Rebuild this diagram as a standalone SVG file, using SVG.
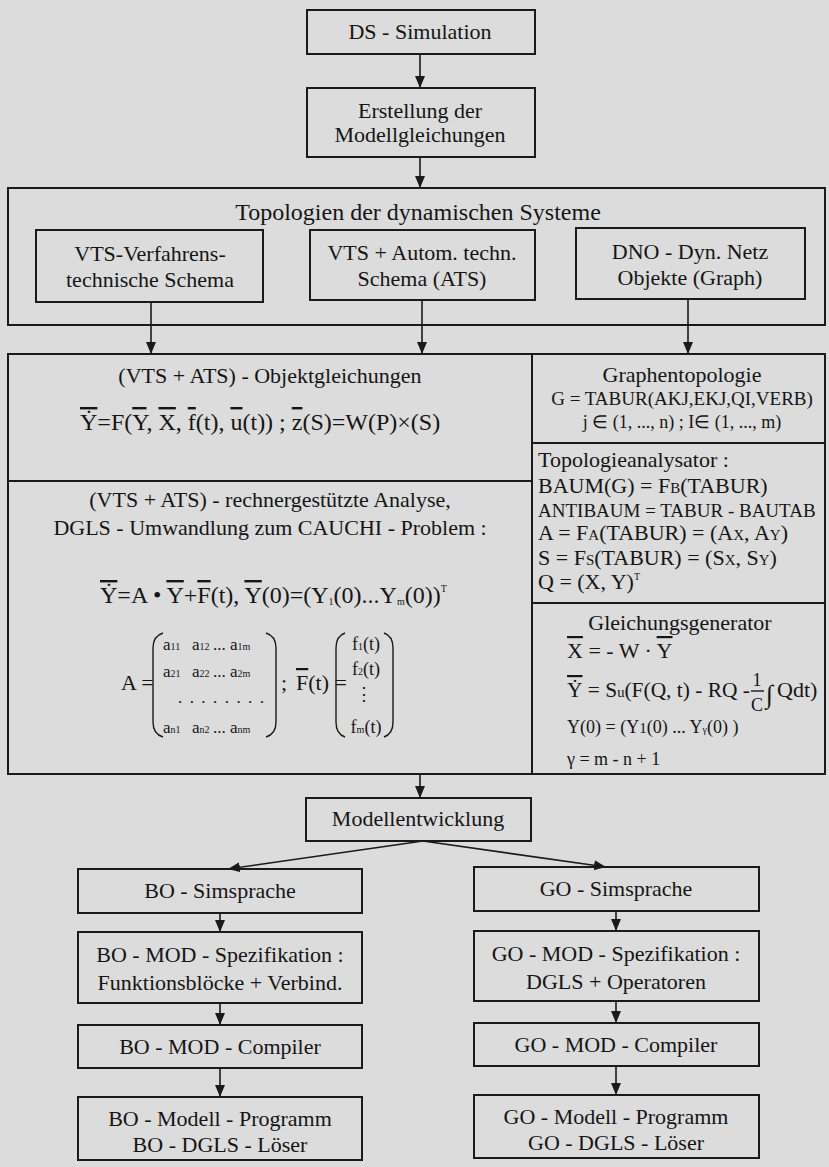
<svg xmlns="http://www.w3.org/2000/svg" width="829" height="1167" viewBox="0 0 829 1167">
<defs>
<style>
.box{fill:none;stroke:#1a1a1a;stroke-width:2}
.div{stroke:#1a1a1a;stroke-width:2}
.con{fill:none;stroke:#1a1a1a;stroke-width:1.6}
.par{fill:none;stroke:#1a1a1a;stroke-width:1.4}
text{font-family:"Liberation Serif",serif;fill:#151515;font-size:22px}
.c{text-anchor:middle}
.ov{text-decoration:overline}
.eq{font-size:24px}
.s19{font-size:19px}
.s18{font-size:18px}
.mx{font-size:17px}
.sub{font-size:10px}
.sc{font-size:15px}
</style>
<marker id="ah" markerUnits="userSpaceOnUse" markerWidth="12" markerHeight="12" refX="12" refY="5" orient="auto">
<path d="M0,0 L12,5 L0,10 z" fill="#1a1a1a"/>
</marker>
</defs>
<rect width="829" height="1167" fill="#dcdcdc"/>

<g id="connectors">
<line class="con" x1="420" y1="54" x2="420" y2="88" marker-end="url(#ah)"/>
<line class="con" x1="420" y1="157" x2="420" y2="188" marker-end="url(#ah)"/>
<line class="con" x1="151" y1="302" x2="151" y2="354" marker-end="url(#ah)"/>
<line class="con" x1="422" y1="300" x2="422" y2="354" marker-end="url(#ah)"/>
<line class="con" x1="688" y1="299" x2="688" y2="354" marker-end="url(#ah)"/>
<line class="con" x1="420" y1="774" x2="420" y2="798" marker-end="url(#ah)"/>
<line class="con" x1="423" y1="841" x2="228" y2="869" marker-end="url(#ah)"/>
<line class="con" x1="423" y1="841" x2="606" y2="867" marker-end="url(#ah)"/>
<line class="con" x1="220" y1="913" x2="220" y2="932" marker-end="url(#ah)"/>
<line class="con" x1="616" y1="911" x2="616" y2="931" marker-end="url(#ah)"/>
<line class="con" x1="220" y1="1003" x2="220" y2="1025" marker-end="url(#ah)"/>
<line class="con" x1="616" y1="1001" x2="616" y2="1023" marker-end="url(#ah)"/>
<line class="con" x1="220" y1="1068" x2="220" y2="1097" marker-end="url(#ah)"/>
<line class="con" x1="616" y1="1066" x2="616" y2="1095" marker-end="url(#ah)"/>
</g>

<g id="ds-simulation">
<rect class="box" x="307" y="10" width="228" height="44"/>
<text class="c" x="420" y="39">DS - Simulation</text>
</g>

<g id="erstellung">
<rect class="box" x="307" y="88" width="228" height="69"/>
<text class="c" x="420" y="118">Erstellung der</text>
<text class="c" x="420" y="142">Modellgleichungen</text>
</g>

<g id="topologien">
<rect class="box" x="8" y="188" width="817" height="137"/>
<text class="c" x="418" y="220" style="font-size:24px">Topologien der dynamischen Systeme</text>
</g>

<g id="vts">
<rect class="box" x="36" y="230" width="227" height="72"/>
<text class="c" x="150" y="261">VTS-Verfahrens-</text>
<text class="c" x="150" y="287">technische Schema</text>
</g>

<g id="vts-ats">
<rect class="box" x="310" y="230" width="225" height="70"/>
<text class="c" x="422" y="260">VTS + Autom. techn.</text>
<text class="c" x="422" y="286">Schema (ATS)</text>
</g>

<g id="dno">
<rect class="box" x="576" y="228" width="229" height="71"/>
<text class="c" x="690" y="259">DNO - Dyn. Netz</text>
<text class="c" x="690" y="285">Objekte (Graph)</text>
</g>

<g id="hauptblock">
<rect class="box" x="8" y="354" width="817" height="420"/>
<line class="div" x1="532" y1="354" x2="532" y2="774"/>
<line class="div" x1="8" y1="481" x2="532" y2="481"/>
<line class="div" x1="532" y1="443" x2="825" y2="443"/>
<line class="div" x1="532" y1="603" x2="825" y2="603"/>
</g>

<g id="objektgleichungen">
<text class="c" x="270" y="383">(VTS + ATS) - Objektgleichungen</text>
<text class="eq" x="80" y="430"><tspan class="ov">Ẏ</tspan>=F(<tspan class="ov">Y</tspan>, <tspan class="ov">X</tspan>, <tspan class="ov">f</tspan>(t), <tspan class="ov">u</tspan>(t)) ;  <tspan class="ov">z</tspan>(S)=W(P)×(S)</text>
</g>

<g id="analyse">
<text class="c" x="270" y="507">(VTS + ATS) - rechnergestützte Analyse,</text>
<text class="c" x="270" y="535">DGLS - Umwandlung zum CAUCHI - Problem :</text>
<text class="eq" x="100" y="603"><tspan class="ov">Ẏ</tspan>=A • <tspan class="ov">Y</tspan>+<tspan class="ov">F</tspan>(t), <tspan class="ov">Y</tspan>(0)=(Y<tspan class="sub" dy="2">1</tspan><tspan dy="-2">(0)...Y</tspan><tspan class="sub" dy="2">m</tspan><tspan dy="-2">(0))</tspan><tspan class="sub" dy="-11">T</tspan></text>
<text x="121" y="690">A =</text>
<path class="par" d="M163,633 Q153,636 153,648 L153,722 Q153,734 163,737"/>
<path class="par" d="M266,633 Q276,636 276,648 L276,722 Q276,734 266,737"/>
<text class="mx" x="163" y="650">a<tspan class="sub">11</tspan></text>
<text class="mx" x="192" y="650">a<tspan class="sub">12</tspan></text>
<text class="mx" x="213" y="650">...</text>
<text class="mx" x="230" y="650">a<tspan class="sub">1m</tspan></text>
<text class="mx" x="163" y="677">a<tspan class="sub">21</tspan></text>
<text class="mx" x="192" y="677">a<tspan class="sub">22</tspan></text>
<text class="mx" x="213" y="677">...</text>
<text class="mx" x="230" y="677">a<tspan class="sub">2m</tspan></text>
<text class="mx" x="178" y="703" textLength="86" lengthAdjust="spacing">. . . . . . . .</text>
<text class="mx" x="163" y="733">a<tspan class="sub">n1</tspan></text>
<text class="mx" x="192" y="733">a<tspan class="sub">n2</tspan></text>
<text class="mx" x="213" y="733">...</text>
<text class="mx" x="230" y="733">a<tspan class="sub">nm</tspan></text>
<text x="281" y="690">;</text>
<text x="296" y="690"><tspan class="ov">F</tspan>(t) =</text>
<path class="par" d="M345,633 Q336,636 336,648 L336,722 Q336,734 345,737"/>
<path class="par" d="M384,633 Q393,636 393,648 L393,722 Q393,734 384,737"/>
<text class="c s18" x="366" y="650">f<tspan class="sub">1</tspan>(t)</text>
<text class="c s18" x="366" y="675">f<tspan class="sub">2</tspan>(t)</text>
<text class="c s18" x="364" y="700">⋮</text>
<text class="c s18" x="366" y="733">f<tspan class="sub">m</tspan>(t)</text>
</g>

<g id="graphentopologie">
<text class="c" x="682" y="382">Graphentopologie</text>
<text class="c s19" x="682" y="405">G = TABUR(AKJ,EKJ,QI,VERB)</text>
<text class="c s18" x="682" y="428">j ∈ (1, ..., n) ; I∈ (1, ..., m)</text>
</g>

<g id="topologieanalysator">
<text x="538" y="467">Topologieanalysator :</text>
<text x="538" y="493">BAUM(G) = F<tspan class="sc">B</tspan>(TABUR)</text>
<text class="s19" x="538" y="517">ANTIBAUM = TABUR - BAUTAB</text>
<text x="538" y="540">A = F<tspan class="sc">A</tspan>(TABUR) = (A<tspan class="sc">X</tspan>, A<tspan class="sc">Y</tspan>)</text>
<text x="538" y="565">S = F<tspan class="sc">S</tspan>(TABUR) = (S<tspan class="sc">X</tspan>, S<tspan class="sc">Y</tspan>)</text>
<text x="538" y="589">Q = (X, Y)<tspan class="sub" dy="-9">T</tspan></text>
</g>

<g id="gleichungsgenerator">
<text class="c" x="680" y="630">Gleichungsgenerator</text>
<text x="567" y="658"><tspan class="ov">X</tspan> = - W · <tspan class="ov">Y</tspan></text>
<text x="567" y="697" textLength="183" lengthAdjust="spacingAndGlyphs"><tspan class="ov">Ẏ</tspan> = S<tspan class="sc">u</tspan>(F(Q, t) - RQ -</text>
<text class="c s18" x="757" y="686">1</text>
<line class="par" x1="751" y1="691" x2="764" y2="691"/>
<text class="c s18" x="757" y="711">C</text>
<text x="766" y="703" style="font-size:26px">∫</text>
<text x="777" y="697">Qdt)</text>
<text class="s18" x="567" y="733">Y(0) = (Y<tspan class="sc">1</tspan>(0) ... Y<tspan class="sub">γ</tspan>(0) )</text>
<text class="s18" x="567" y="765">γ = m - n + 1</text>
</g>

<g id="modellentwicklung">
<rect class="box" x="306" y="798" width="225" height="43"/>
<text class="c" x="418" y="826">Modellentwicklung</text>
</g>

<g id="bo-simsprache">
<rect class="box" x="78" y="869" width="284" height="44"/>
<text class="c" x="220" y="898">BO - Simsprache</text>
</g>
<g id="go-simsprache">
<rect class="box" x="474" y="867" width="285" height="44"/>
<text class="c" x="616" y="896">GO - Simsprache</text>
</g>

<g id="bo-spez">
<rect class="box" x="78" y="932" width="284" height="71"/>
<text class="c" x="220" y="962">BO - MOD - Spezifikation :</text>
<text class="c" x="220" y="990">Funktionsblöcke + Verbind.</text>
</g>
<g id="go-spez">
<rect class="box" x="474" y="931" width="285" height="70"/>
<text class="c" x="616" y="961">GO - MOD - Spezifikation :</text>
<text class="c" x="616" y="989">DGLS + Operatoren</text>
</g>

<g id="bo-compiler">
<rect class="box" x="78" y="1025" width="284" height="43"/>
<text class="c" x="220" y="1054">BO - MOD - Compiler</text>
</g>
<g id="go-compiler">
<rect class="box" x="474" y="1023" width="285" height="43"/>
<text class="c" x="616" y="1052">GO - MOD - Compiler</text>
</g>

<g id="bo-modell">
<rect class="box" x="78" y="1097" width="284" height="63"/>
<text class="c" x="220" y="1126">BO - Modell - Programm</text>
<text class="c" x="220" y="1152">BO - DGLS - Löser</text>
</g>
<g id="go-modell">
<rect class="box" x="474" y="1095" width="285" height="63"/>
<text class="c" x="616" y="1124">GO - Modell - Programm</text>
<text class="c" x="616" y="1150">GO - DGLS - Löser</text>
</g>
</svg>
